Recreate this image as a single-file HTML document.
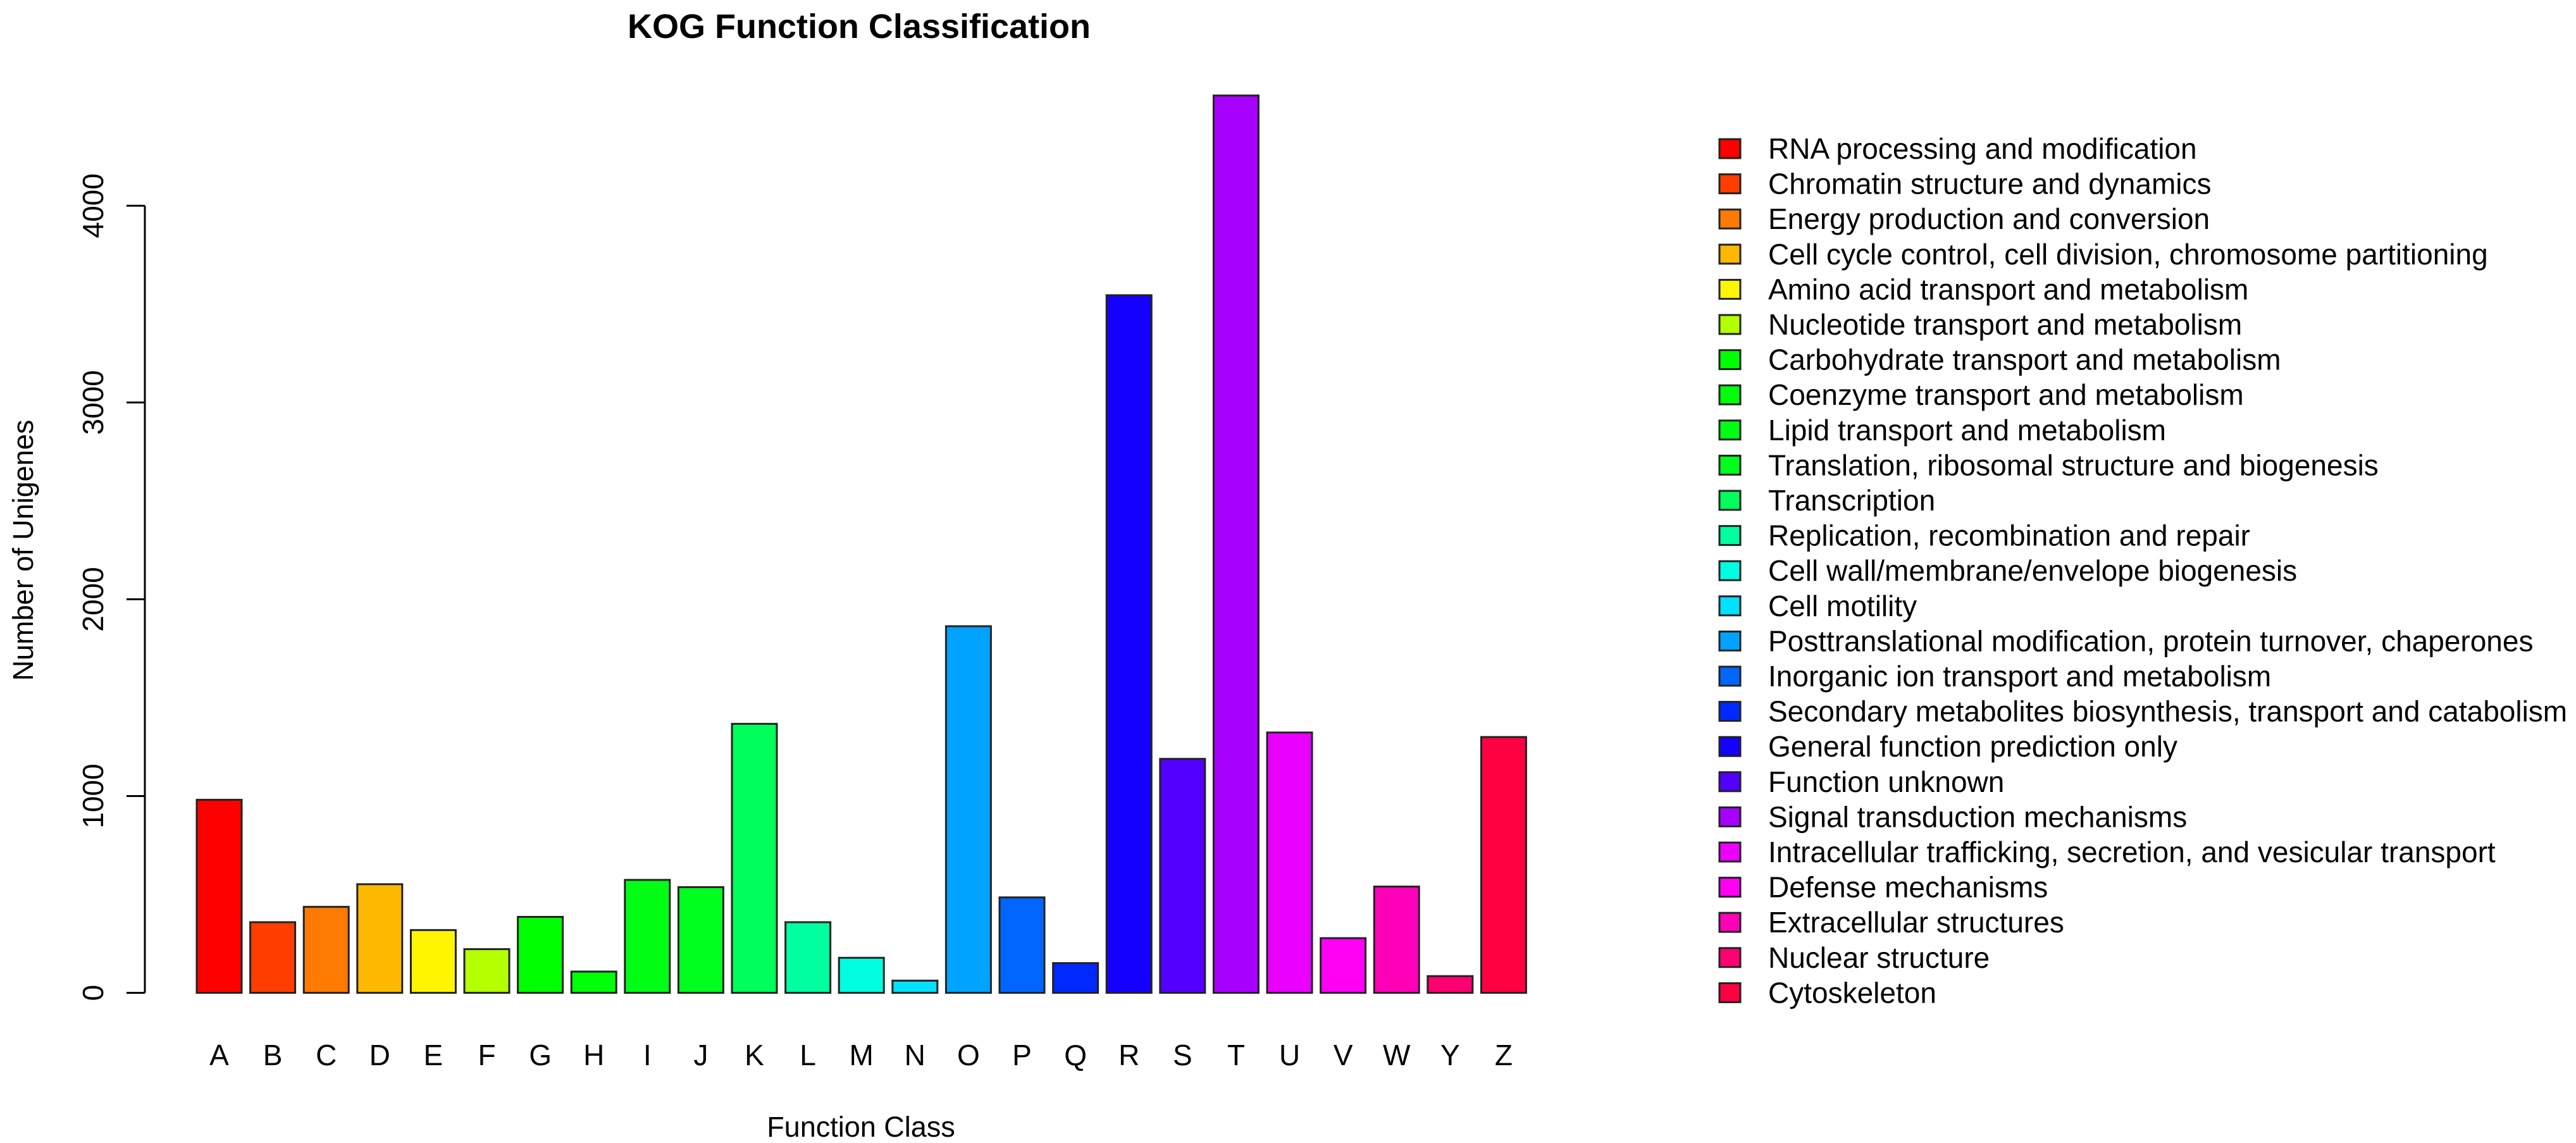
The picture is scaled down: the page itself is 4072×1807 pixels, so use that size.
<!DOCTYPE html>
<html><head><meta charset="utf-8"><style>
html,body{margin:0;padding:0;background:#fff;}
svg{display:block;font-family:"Liberation Sans",Arial,sans-serif;}
</style></head><body>
<svg id="chart" width="4072" height="1807" viewBox="0 0 4072 1807" xmlns="http://www.w3.org/2000/svg">
<rect x="0" y="0" width="4072" height="1807" fill="#fff"/>
<text x="1358" y="60" font-size="54" font-weight="bold" text-anchor="middle">KOG Function Classification</text>
<text x="1361" y="1797" font-size="45" text-anchor="middle">Function Class</text>
<text transform="translate(52,870) rotate(-90)" font-size="45" text-anchor="middle">Number of Unigenes</text>
<g id="axis"></g>
<g id="bars"></g>
<g id="legend"></g>
</svg>
<script>
const categories = ["A","B","C","D","E","F","G","H","I","J","K","L","M","N","O","P","Q","R","S","T","U","V","W","Y","Z"];
const values = [981,359,437,552,319,222,386,108,574,537,1367,359,178,62,1863,485,151,3545,1189,4560,1323,278,540,85,1300];
const colors = ["#FF0000","#FF3D00","#FF7A00","#FFB800","#FFF500","#B4FF00","#00FF00","#00FF08","#00FF14","#00FF1E","#00FF5A","#00FFA0","#00FFE0","#00E0FF","#00A3FF","#0066FF","#0029FF","#1400FF","#5200FF","#A800FF","#EB00FF","#FF00F5","#FF00B8","#FF0070","#FF0040"];
const legendLabels = ["RNA processing and modification","Chromatin structure and dynamics","Energy production and conversion","Cell cycle control, cell division, chromosome partitioning","Amino acid transport and metabolism","Nucleotide transport and metabolism","Carbohydrate transport and metabolism","Coenzyme transport and metabolism","Lipid transport and metabolism","Translation, ribosomal structure and biogenesis","Transcription","Replication, recombination and repair","Cell wall/membrane/envelope biogenesis","Cell motility","Posttranslational modification, protein turnover, chaperones","Inorganic ion transport and metabolism","Secondary metabolites biosynthesis, transport and catabolism","General function prediction only","Function unknown","Signal transduction mechanisms","Intracellular trafficking, secretion, and vesicular transport","Defense mechanisms","Extracellular structures","Nuclear structure","Cytoskeleton"];
const yTicks = [0,1000,2000,3000,4000];

const NS="http://www.w3.org/2000/svg";
const y0=1569.6, pxPer=0.3111;
function yScale(v){return y0 - v*pxPer;}
function xScale(i){return 311 + i*84.6;}
const barW=71;
function mk(tag,attrs,parent,text){const e=document.createElementNS(NS,tag);for(const k in attrs)e.setAttribute(k,attrs[k]);if(text!==undefined)e.textContent=text;parent.appendChild(e);return e;}

const axis=document.getElementById('axis');
const yl=mk('line',{x1:229,x2:229,y1:yScale(yTicks[yTicks.length-1]),y2:yScale(0),stroke:'#000','stroke-width':3},axis);


yTicks.forEach(t=>{
  const tk=mk('line',{x1:200,x2:229,y1:yScale(t),y2:yScale(t),stroke:'#000','stroke-width':3},axis);
  
  
  const lb=mk('text',{transform:`translate(163,${yScale(t)}) rotate(-90)`,'font-size':46,'text-anchor':'middle'},axis,String(t));
  
  
});

const bars=document.getElementById('bars');
categories.forEach((c,i)=>{
  const top=yScale(values[i]);
  const r=mk('rect',{x:xScale(i),y:top,width:barW,height:y0-top,fill:colors[i],stroke:'#222','stroke-width':3},bars);
  
  
  const t=mk('text',{x:xScale(i)+barW/2,y:1684,'font-size':46,'text-anchor':'middle'},bars,c);
  
  
});

const legend=document.getElementById('legend');
legendLabels.forEach((l,i)=>{
  const cy=235+i*55.6;
  const g=mk('g',{},legend);
  
  
  const b=mk('rect',{x:2718,y:cy-15,width:33,height:30,fill:colors[i],stroke:'#222','stroke-width':3},g);
  
  
  const t=mk('text',{x:2795,y:cy+16,'font-size':46},g,l);
  
  
});
</script>
</body></html>
